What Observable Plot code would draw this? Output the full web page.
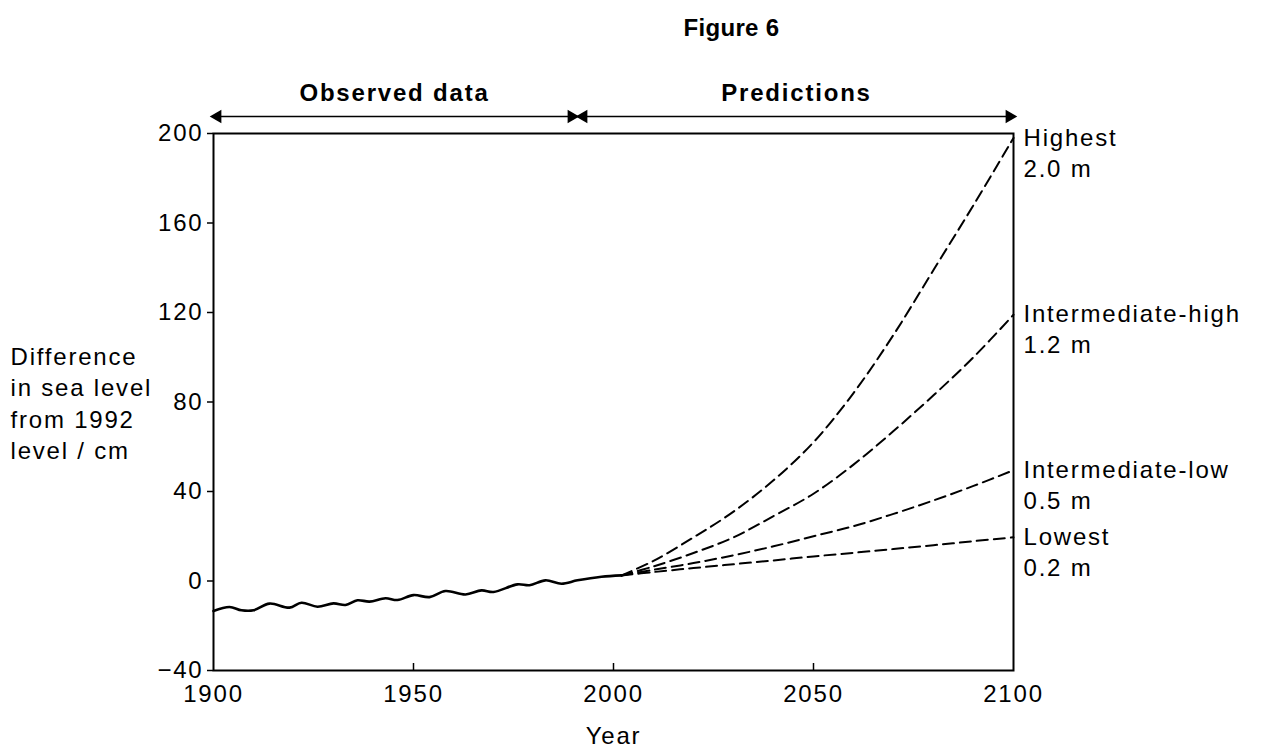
<!DOCTYPE html>
<html>
<head>
<meta charset="utf-8">
<script src="https://cdn.jsdelivr.net/npm/d3@7"></script>
<script src="https://cdn.jsdelivr.net/npm/@observablehq/plot@0.6"></script>
<style>
  html, body { margin: 0; padding: 0; background: #fff; }
  #title { height: 55px; line-height: 56px; padding-left: 200px; width: 1063px; text-align: center;
           font-family: "Liberation Sans", Arial, sans-serif; font-weight: bold; font-size: 24px; letter-spacing: 0.3px; color: #000; }
</style>
</head>
<body>
<div id="title">Figure 6</div>
<div id="chart"></div>
<script>
// Observed data (cm difference from 1992 level)
const obsYears  = [1900,1904,1907,1910,1914,1919,1922,1926,1930,1933,1936,1939,1943,1946,1950,1954,1958,1963,1967,1970,1976,1979,1983,1987,1991,1997,2002];
const obsValues = [-13.4,-11.6,-13.1,-13.1,-10.1,-11.9,-9.7,-11.5,-10.0,-10.7,-8.6,-9.2,-7.7,-8.5,-6.3,-7.2,-4.5,-6.0,-4.2,-4.9,-1.5,-1.9,0.3,-1.2,0.3,1.9,2.5];

// Predictions
const predYears = [2002,2010,2020,2030,2040,2050,2060,2070,2080,2090,2100];
const highest   = [2.5, 9, 19.5, 31, 45, 62, 84, 110, 139, 168, 198];
const interHigh = [2.5, 6.5, 12.5, 19.5, 29, 39, 52, 67, 83, 100, 119];
const interLow  = [2.5, 5, 8, 11.5, 15.5, 20, 24.5, 30, 36, 42.5, 49.5];
const lowest    = [2.5, 4, 5.8, 7.5, 9.2, 11, 12.6, 14.3, 16, 17.8, 19.5];

const scenarioNames   = ["Highest", "Intermediate-high", "Intermediate-low", "Lowest"];
const scenarioAmounts = ["2.0 m", "1.2 m", "0.5 m", "0.2 m"];
const scenarioSeries  = [highest, interHigh, interLow, lowest];

const xTicks = [1900, 1950, 2000, 2050, 2100];
const yTicks = [-40, 0, 40, 80, 120, 160, 200];

const periods = [
  {label: "Observed data", start: 1900, end: 1990.5},
  {label: "Predictions", start: 1991.5, end: 2100}
];

const observed = obsYears.map((year, i) => ({year, value: obsValues[i]}));
const predictions = scenarioSeries.flatMap((vals, s) =>
  predYears.map((year, i) => ({scenario: scenarioNames[s], year, value: vals[i]})));
const ends = scenarioSeries.map((vals, s) => ({
  name: scenarioNames[s], amount: scenarioAmounts[s],
  year: predYears[predYears.length - 1], value: vals[vals.length - 1]}));
const leftHeads = periods.map(p => ({year: p.start}));
const rightHeads = periods.map(p => ({year: p.end}));

const chart = Plot.plot({
  width: 1263,
  height: 696,
  marginLeft: 213,
  marginRight: 250,
  marginTop: 78,
  marginBottom: 81,
  style: {fontFamily: "'Liberation Sans', Arial, sans-serif", fontSize: "24px", letterSpacing: "1.8px", color: "#000", background: "#fff", overflow: "visible"},
  x: {domain: [1900, 2100]},
  y: {domain: [-40, 200]},
  marks: [
    Plot.axisY(yTicks, {tickSize: 6, tickPadding: 4, fontSize: 24, label: null, strokeWidth: 1.5}),
    Plot.axisX(xTicks, {tickSize: 0, tickPadding: 14, fontSize: 24, label: null, tickFormat: d => String(d)}),
    Plot.ruleX(xTicks.slice(1, -1), {x: d => d, insetTop: 530, strokeWidth: 1.5}),
    Plot.frame({strokeWidth: 2}),
    Plot.line(observed, {x: "year", y: "value", stroke: "#000", strokeWidth: 2.6, curve: "catmull-rom"}),
    Plot.line(predictions, {x: "year", y: "value", z: "scenario", stroke: "#000", strokeWidth: 2, strokeDasharray: "11,6", curve: "catmull-rom"}),
    Plot.text(ends, {x: "year", y: "value", text: "name", textAnchor: "start", dx: 10, lineAnchor: "middle"}),
    Plot.text(ends, {x: "year", y: "value", text: "amount", textAnchor: "start", dx: 10, dy: 31, lineAnchor: "middle"}),
    Plot.text(["Difference\nin sea level\nfrom 1992\nlevel / cm"], {text: d => d, y: [80], frameAnchor: "left", dx: -203, textAnchor: "start", lineHeight: 1.3}),
    Plot.text(["Year"], {text: d => d, x: [2000], frameAnchor: "bottom", dy: 73}),
    Plot.ruleY(periods, {x1: "start", x2: "end", y: () => 200, dy: -17, strokeWidth: 1.5}),
    Plot.dot(leftHeads, {x: "year", y: () => 200, dy: -17, dx: 4, symbol: "triangle", rotate: -90, r: 5, fill: "#000", stroke: "none"}),
    Plot.dot(rightHeads, {x: "year", y: () => 200, dy: -17, dx: -4, symbol: "triangle", rotate: 90, r: 5, fill: "#000", stroke: "none"}),
    Plot.text(periods, {x: d => (d.start + d.end) / 2, y: () => 200, dy: -40, text: "label", fontWeight: "bold"})
  ]
});
document.getElementById("chart").appendChild(chart);
</script>
</body>
</html>
